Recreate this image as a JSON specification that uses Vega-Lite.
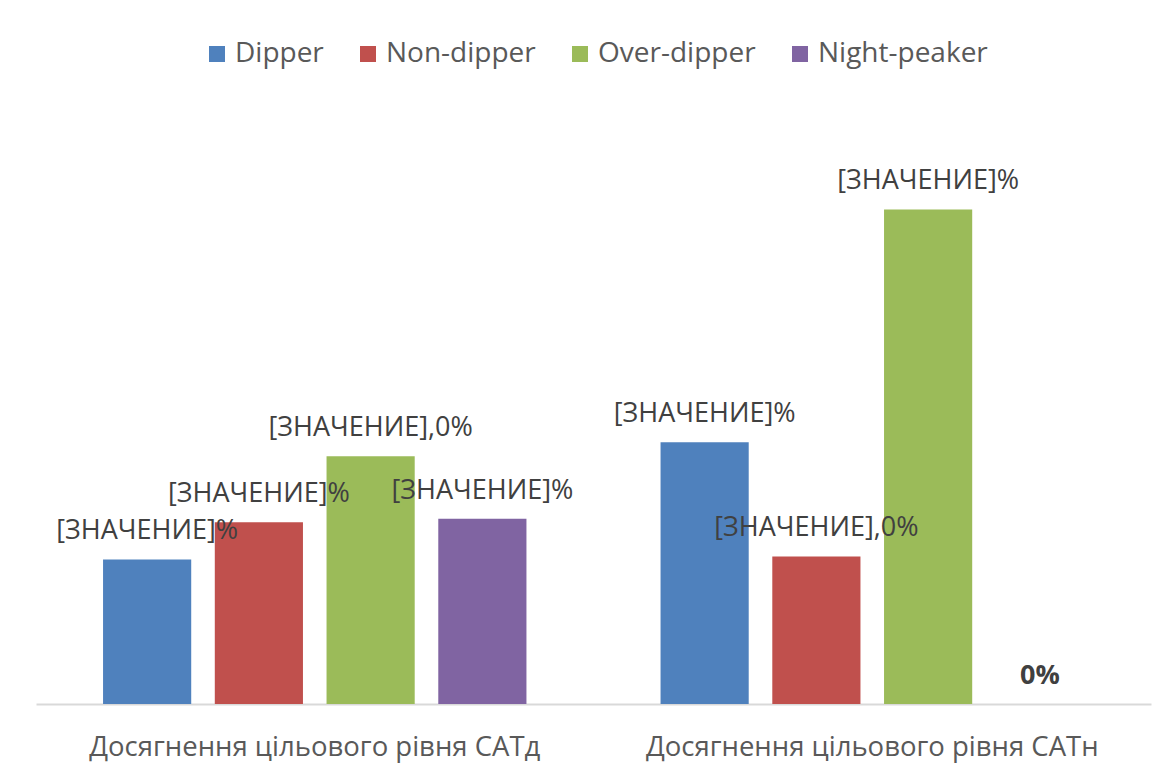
{
  "$schema": "https://vega.github.io/schema/vega-lite/v6.json",
  "autosize": {"type": "none"},
  "width": 1115,
  "height": 519,
  "padding": {"left": 36, "top": 185, "right": 17, "bottom": 70},
  "background": "white",
  "config": {"view": {"stroke": null}, "font": "Open Sans"},
  "data": {
    "values": [
      {"group": "Досягнення цільового рівня САТд", "type": "Dipper", "value": 19.5, "label": "[ЗНАЧЕНИЕ]%"},
      {"group": "Досягнення цільового рівня САТд", "type": "Non-dipper", "value": 24.5, "label": "[ЗНАЧЕНИЕ]%"},
      {"group": "Досягнення цільового рівня САТд", "type": "Over-dipper", "value": 33.4, "label": "[ЗНАЧЕНИЕ],0%"},
      {"group": "Досягнення цільового рівня САТд", "type": "Night-peaker", "value": 25.0, "label": "[ЗНАЧЕНИЕ]%"},
      {"group": "Досягнення цільового рівня САТн", "type": "Dipper", "value": 35.3, "label": "[ЗНАЧЕНИЕ]%"},
      {"group": "Досягнення цільового рівня САТн", "type": "Non-dipper", "value": 19.9, "label": "[ЗНАЧЕНИЕ],0%"},
      {"group": "Досягнення цільового рівня САТн", "type": "Over-dipper", "value": 66.7, "label": "[ЗНАЧЕНИЕ]%"},
      {"group": "Досягнення цільового рівня САТн", "type": "Night-peaker", "value": 0, "label": "0%"}
    ]
  },
  "encoding": {
    "x": {
      "field": "group", "type": "nominal", "title": null,
      "scale": {"paddingInner": 0, "paddingOuter": 0},
      "axis": {
        "labelAngle": 0, "labelFontSize": 27.5, "labelColor": "#595959", "labelFont": "Open Sans",
        "labelLimit": 0, "labelPadding": 29, "ticks": false,
        "domainColor": "#D9D9D9", "domainWidth": 2, "grid": false
      }
    },
    "xOffset": {
      "field": "type", "type": "nominal",
      "sort": ["Dipper", "Non-dipper", "Over-dipper", "Night-peaker"],
      "scale": {"paddingInner": 0.211, "paddingOuter": 0.6}
    },
    "y": {
      "field": "value", "type": "quantitative", "title": null,
      "scale": {"domain": [0, 70], "nice": false},
      "axis": null
    }
  },
  "layer": [
    {
      "mark": {"type": "bar"},
      "encoding": {
        "color": {
          "field": "type", "type": "nominal",
          "scale": {
            "domain": ["Dipper", "Non-dipper", "Over-dipper", "Night-peaker"],
            "range": ["#4F81BD", "#C0504D", "#9BBB59", "#8064A2"]
          },
          "legend": {
            "title": null, "orient": "none", "direction": "horizontal",
            "legendX": 167, "legendY": -145,
            "symbolType": "square", "symbolSize": 256, "symbolStrokeWidth": 0,
            "labelFontSize": 28, "labelColor": "#595959", "labelFont": "Open Sans",
            "labelOffset": 4, "columnPadding": 30, "labelLimit": 0, "padding": 0
          }
        }
      }
    },
    {
      "transform": [{"filter": "datum.value > 0"}],
      "mark": {"type": "text", "baseline": "alphabetic", "dy": -20, "fontSize": 27, "color": "#404040", "font": "Open Sans"},
      "encoding": {
        "text": {"field": "label"}
      }
    },
    {
      "transform": [{"filter": "datum.value === 0"}],
      "mark": {"type": "text", "baseline": "alphabetic", "dy": -20, "fontSize": 27, "fontWeight": "bold", "color": "#404040", "font": "Open Sans"},
      "encoding": {
        "text": {"field": "label"}
      }
    }
  ]
}
